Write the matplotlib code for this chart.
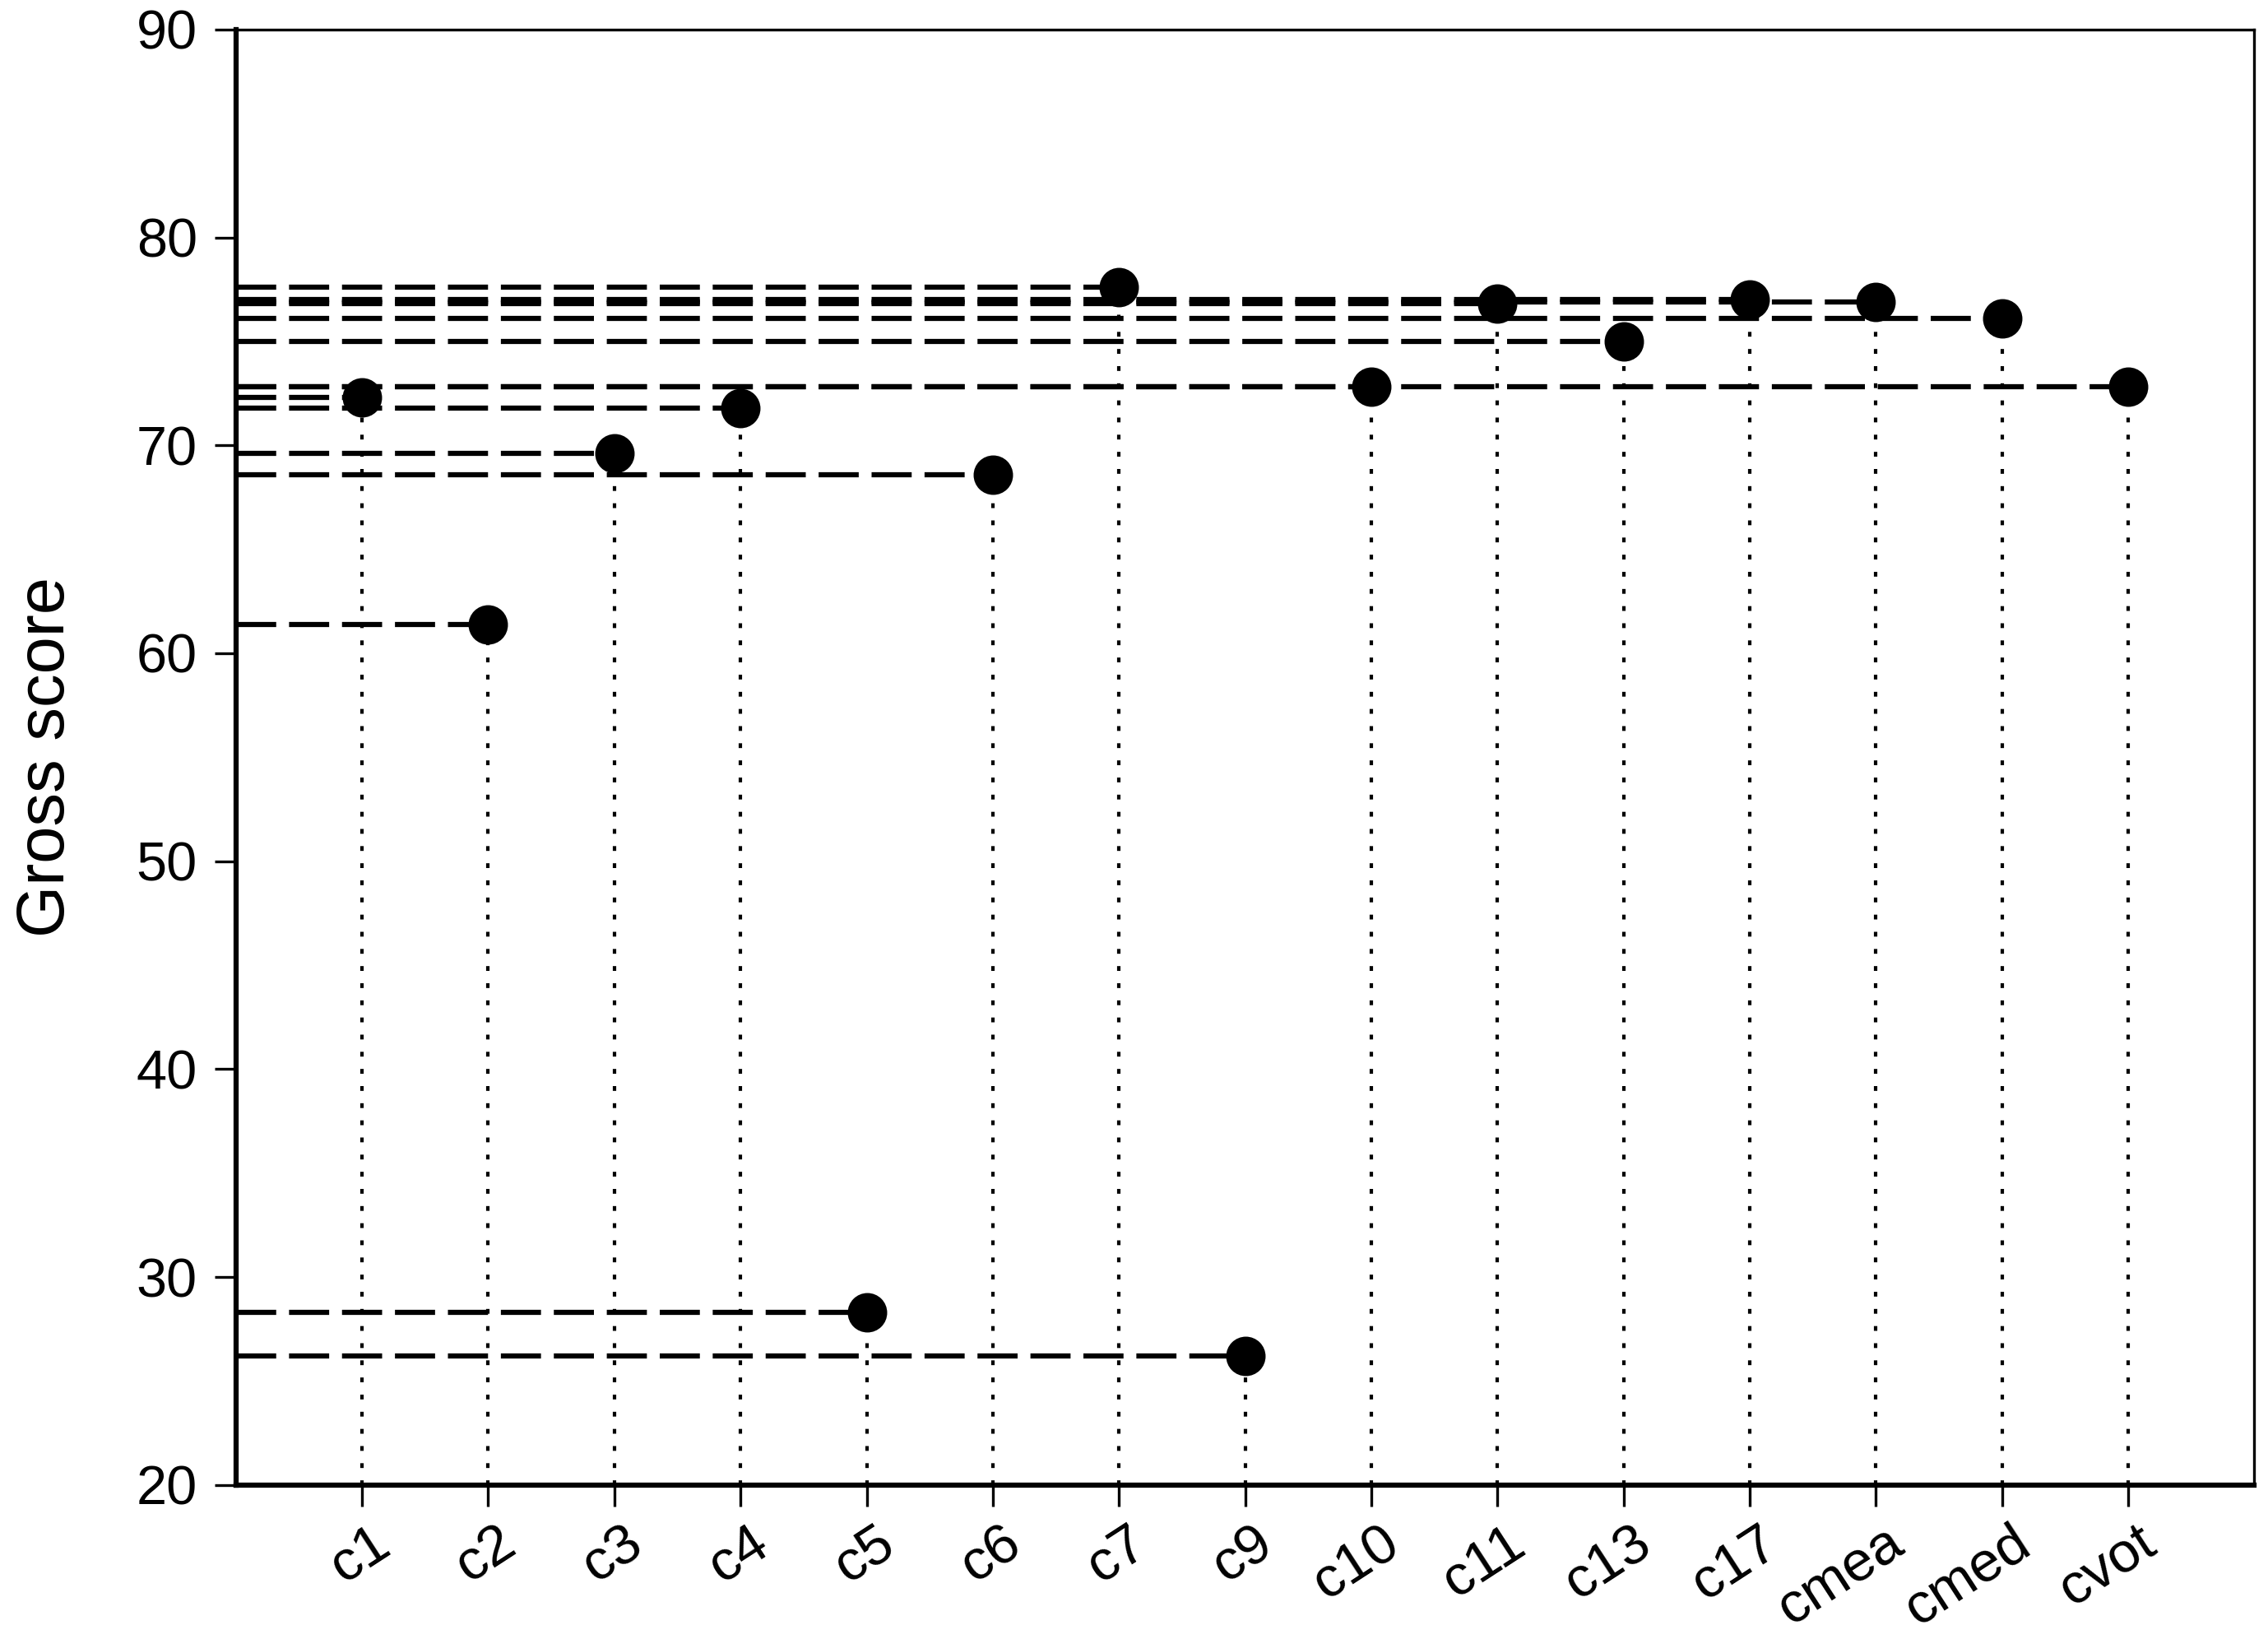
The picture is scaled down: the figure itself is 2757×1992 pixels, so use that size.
import numpy as np
import matplotlib.pyplot as plt
import matplotlib.transforms as mtransforms

plt.rcParams['font.family'] = ['Liberation Sans', 'DejaVu Sans']

cats = ['c1', 'c2', 'c3', 'c4', 'c5', 'c6', 'c7', 'c9', 'c10', 'c11',
        'c13', 'c17', 'cmea', 'cmed', 'cvot']
scores = [72.3, 61.4, 69.6, 71.8, 28.3, 68.6, 77.6, 26.2, 72.8, 76.8,
          75.0, 77.0, 76.9, 76.1, 72.8]
yticks = [20, 30, 40, 50, 60, 70, 80, 90]

fig = plt.figure(figsize=(2757/300, 1992/300), dpi=300)
ax = fig.add_axes([0.104, 0.094, 0.890, 0.888])

x = np.arange(1, len(cats) + 1)
ymin = 20

for xi, yi in zip(x, scores):
    # dashed line from the y axis to the point
    ax.plot([0, xi], [yi, yi], color='black', lw=1.5,
            linestyle=(0, (7.8, 2.5)), zorder=2)
    # dotted drop line down to the x axis
    ax.plot([xi, xi], [ymin, yi], color='black', lw=1.0,
            linestyle=(0, (1.4, 3.6)), zorder=2)

ax.plot(x, scores, 'o', color='black', markersize=10.5, zorder=3)

ax.set_xlim(0, 16)
ax.set_ylim(20, 90)
ax.set_yticks(yticks)
ax.set_xticks(x)
ax.set_xticklabels(cats, rotation=33, ha='right', rotation_mode='anchor')

ax.tick_params(axis='both', direction='out', length=6.2, width=0.8,
               colors='black')
ax.tick_params(axis='x', pad=3, labelsize=16.5)
ax.tick_params(axis='y', pad=5, labelsize=16)

# nudge the slanted labels a little to the right
shift = mtransforms.ScaledTranslation(2.5/72, 0, fig.dpi_scale_trans)
for lab in ax.get_xticklabels():
    lab.set_transform(lab.get_transform() + shift)

for s in ['top', 'right']:
    ax.spines[s].set_linewidth(0.8)
for s in ['left', 'bottom']:
    ax.spines[s].set_linewidth(1.5)

ax.set_ylabel('Gross score', fontsize=19.5, labelpad=17)

fig.savefig('out.png', dpi=300, facecolor='white')
